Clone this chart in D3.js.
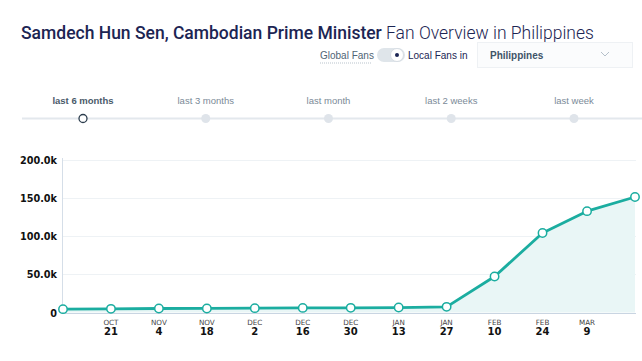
<!DOCTYPE html>
<html>
<head>
<meta charset="utf-8">
<script src="https://cdn.jsdelivr.net/npm/d3@7"></script>
<style>
  body { margin: 0; background: #fff; }
  svg { display: block; }
</style>
</head>
<body>
<script>
// data
let dates = ["2018-10-07","2018-10-21","2018-11-04","2018-11-18","2018-12-02","2018-12-16","2018-12-30",
             "2019-01-13","2019-01-27","2019-02-10","2019-02-24","2019-03-09","2019-03-23"];
let fans = [4400, 4800, 5200, 5300, 5700, 6000, 6100, 6500, 7400, 47000, 104000, 132500, 151000];
let yTicks = [0, 50000, 100000, 150000, 200000];
let ranges = ["last 6 months", "last 3 months", "last month", "last 2 weeks", "last week"];

let width = 642, height = 361;
let parse = d3.timeParse("%Y-%m-%d");
let data = dates.map(function(d, i) { return { date: parse(d), value: fans[i] }; });

let svg = d3.select("body").append("svg")
    .attr("width", width)
    .attr("height", height);

// title
let title = svg.append("text")
    .attr("x", 21).attr("y", 39)
    .style("font-family", "Roboto, 'Liberation Sans', sans-serif")
    .style("font-size", "17.5px")
    .attr("fill", "#1c2553");
title.append("tspan").style("font-weight", 500).text("Samdech Hun Sen, Cambodian Prime Minister");
title.append("tspan").style("font-weight", 300).text(" Fan Overview in Philippines");

// toggle row
let ui = svg.append("g").style("font-family", "'Liberation Sans', Arial, sans-serif");
ui.append("text").attr("x", 320).attr("y", 59).attr("font-size", 10).attr("fill", "#4f6475").text("Global Fans");
ui.append("line").attr("x1", 320).attr("x2", 372).attr("y1", 63).attr("y2", 63)
    .attr("stroke", "#b9c3cc").attr("stroke-dasharray", "1,1");
ui.append("rect").attr("x", 377).attr("y", 48).attr("width", 28).attr("height", 14).attr("rx", 7)
    .attr("fill", "#dfe5ea");
ui.append("circle").attr("cx", 397).attr("cy", 55).attr("r", 6.5).attr("fill", "#fff")
    .attr("stroke", "#d7dde3");
ui.append("circle").attr("cx", 397).attr("cy", 55).attr("r", 2).attr("fill", "#1c2553");
ui.append("text").attr("x", 408).attr("y", 59).attr("font-size", 10).attr("fill", "#1c2553").text("Local Fans in");
ui.append("rect").attr("x", 477.5).attr("y", 42.5).attr("width", 155).attr("height", 25)
    .attr("fill", "#fbfcfd").attr("stroke", "#eef1f4");
ui.append("text").attr("x", 490).attr("y", 59).attr("font-size", 10).attr("font-weight", "bold")
    .attr("fill", "#3f5468").text("Philippines");
ui.append("path").attr("d", "M601,52 L605,56 L609,52").attr("fill", "none")
    .attr("stroke", "#b5c0ca").attr("stroke-width", 1);

// time range slider
let rx = d3.scalePoint().domain(ranges).range([83, 574]);
let slider = svg.append("g").style("font-family", "'Liberation Sans', Arial, sans-serif");
slider.append("line").attr("x1", 22).attr("x2", 642).attr("y1", 118.5).attr("y2", 118.5)
    .attr("stroke", "#e3e8ed").attr("stroke-width", 2);
slider.selectAll("text.range")
    .data(ranges)
    .enter()
    .append("text")
    .attr("class", "range")
    .attr("x", function(d) { return rx(d); })
    .attr("y", 104)
    .attr("text-anchor", "middle")
    .attr("font-size", 9.5)
    .attr("font-weight", function(d, i) { return i == 0 ? "bold" : "normal"; })
    .attr("fill", function(d, i) { return i == 0 ? "#4a5a6a" : "#7b8a98"; })
    .text(function(d) { return d; });
slider.selectAll("circle")
    .data(ranges)
    .enter()
    .append("circle")
    .attr("cx", function(d) { return rx(d); })
    .attr("cy", 118.5)
    .attr("r", function(d, i) { return i == 0 ? 4 : 4.5; })
    .attr("fill", function(d, i) { return i == 0 ? "#fff" : "#dfe4ea"; })
    .attr("stroke", function(d, i) { return i == 0 ? "#2d3e4e" : "none"; })
    .attr("stroke-width", 1.3);

// chart scales
let x = d3.scaleTime().domain(d3.extent(data, function(d) { return d.date; })).range([63, 635]);
let y = d3.scaleLinear().domain([0, 200000]).range([312.5, 159.5]);

let chart = svg.append("g");

// gridlines
chart.selectAll("line.grid")
    .data(yTicks.slice(1))
    .enter()
    .append("line")
    .attr("class", "grid")
    .attr("x1", 63).attr("x2", 636)
    .attr("y1", function(d) { return Math.round(y(d)) + 0.5; })
    .attr("y2", function(d) { return Math.round(y(d)) + 0.5; })
    .attr("stroke", "#eef2f5");

// y labels
chart.selectAll("text.ylab")
    .data(yTicks)
    .enter()
    .append("text")
    .attr("class", "ylab")
    .attr("x", 57)
    .attr("y", function(d) { return y(d) + 4; })
    .attr("text-anchor", "end")
    .style("font-family", "'DejaVu Sans', sans-serif")
    .attr("font-size", 9.7)
    .attr("font-weight", "bold")
    .attr("fill", "#111")
    .text(function(d) { return d == 0 ? "0" : d3.format(".1f")(d / 1000) + "k"; });

// area
let area = d3.area()
    .x(function(d) { return x(d.date); })
    .y0(y(0))
    .y1(function(d) { return y(d.value); });
chart.append("path").datum(data).attr("d", area).attr("fill", "#e9f6f6");

// axes lines
chart.append("line").attr("x1", 62.5).attr("x2", 62.5).attr("y1", 158).attr("y2", 313)
    .attr("stroke", "#d5dee8");
chart.append("line").attr("x1", 62).attr("x2", 636).attr("y1", 313.5).attr("y2", 313.5)
    .attr("stroke", "#c9d5e2");

// line
let line = d3.line()
    .x(function(d) { return x(d.date); })
    .y(function(d) { return y(d.value); });
chart.append("path").datum(data).attr("d", line)
    .attr("fill", "none").attr("stroke", "#1bada0").attr("stroke-width", 2.8)
    .attr("stroke-linejoin", "round");

chart.selectAll("circle.pt")
    .data(data)
    .enter()
    .append("circle")
    .attr("class", "pt")
    .attr("cx", function(d) { return x(d.date); })
    .attr("cy", function(d) { return y(d.value); })
    .attr("r", 4.2)
    .attr("fill", "#fff")
    .attr("stroke", "#1bada0")
    .attr("stroke-width", 1.5);

// x tick labels (skip first and last point)
let ticks = data.slice(1, -1);
let monthFmt = d3.timeFormat("%b"), dayFmt = d3.timeFormat("%-d");
chart.selectAll("text.mon")
    .data(ticks)
    .enter()
    .append("text")
    .attr("class", "mon")
    .attr("x", function(d) { return x(d.date); })
    .attr("y", 325)
    .attr("text-anchor", "middle")
    .style("font-family", "'DejaVu Sans', sans-serif")
    .attr("font-size", 7.2)
    .attr("fill", "#444")
    .text(function(d) { return monthFmt(d.date).toUpperCase(); });
chart.selectAll("text.day")
    .data(ticks)
    .enter()
    .append("text")
    .attr("class", "day")
    .attr("x", function(d) { return x(d.date); })
    .attr("y", 335)
    .attr("text-anchor", "middle")
    .style("font-family", "'DejaVu Sans', sans-serif")
    .attr("font-size", 10)
    .attr("font-weight", "bold")
    .attr("fill", "#111")
    .text(function(d) { return dayFmt(d.date); });
</script>
</body>
</html>
